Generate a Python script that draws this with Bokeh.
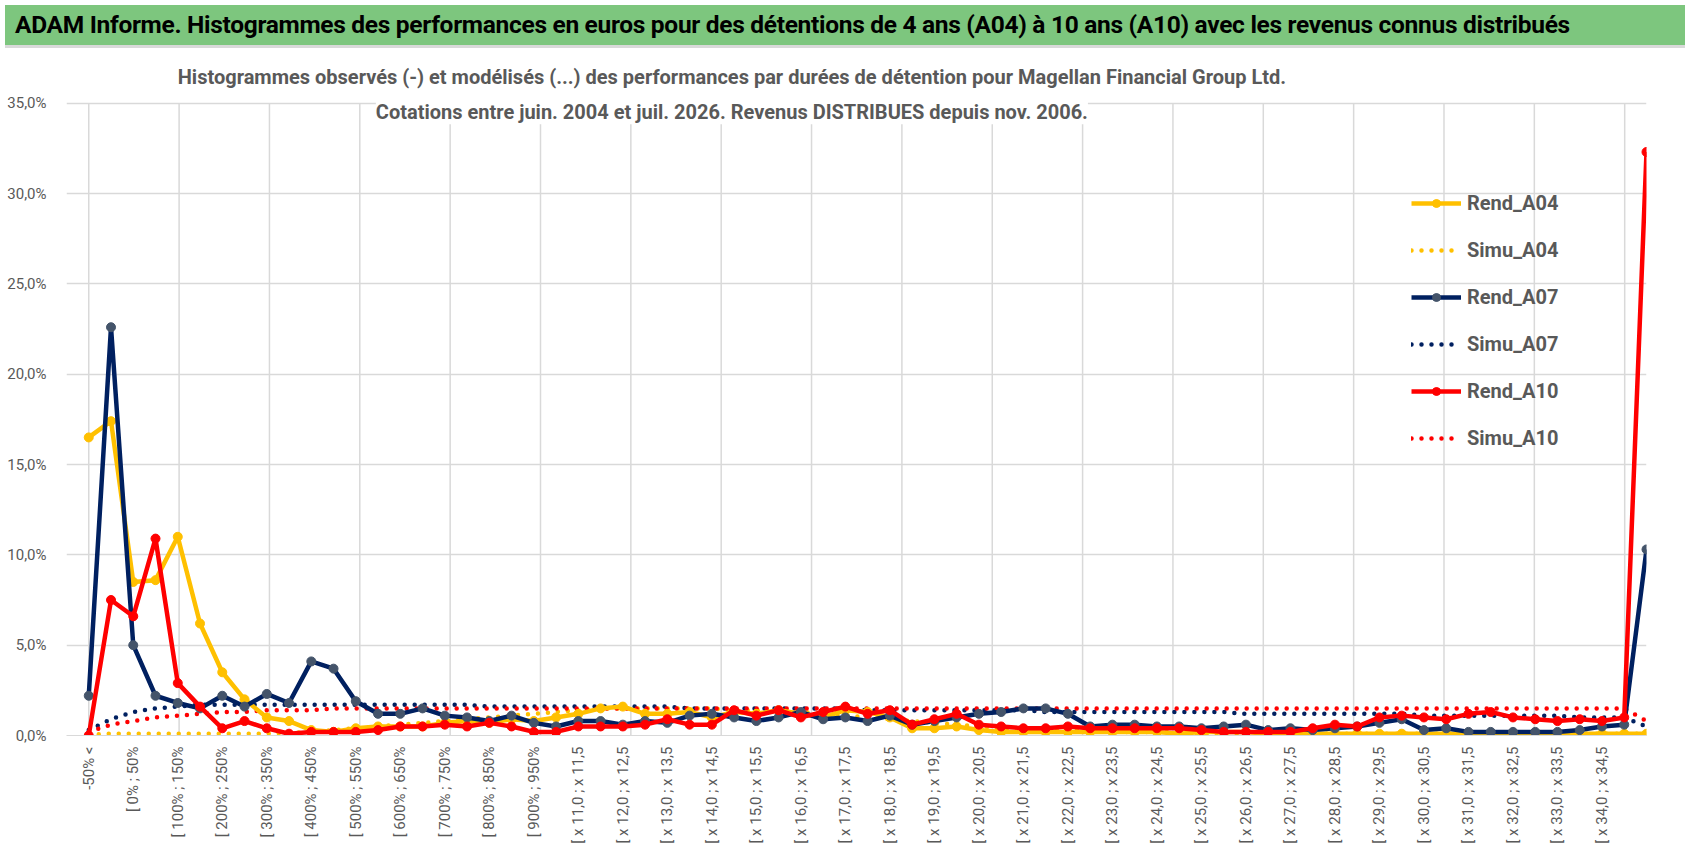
import math
from bokeh.plotting import figure
from bokeh.models import FixedTicker, Legend, LegendItem, Label, Div
from bokeh.layouts import column
from bokeh.embed import file_html
from bokeh.resources import INLINE

FONT = "Roboto"

pct_labels = ["-50% <", "[ -50% ; 0%"] + [f"[ {a}% ; {a+50}%" for a in range(0, 1000, 50)] + \
    [f"[ x {a/2:.1f} ; x {a/2+0.5:.1f}".replace(".", ",") for a in range(22, 70)] + ["> x 35,0"]

rend_a04 = [16.5, 17.4, 8.5, 8.6, 11.0, 6.2, 3.5, 2.0, 1.0, 0.8, 0.3, 0.2, 0.4, 0.5, 0.5, 0.5, 0.7, 0.8, 0.7, 0.9,
            0.8, 1.0, 1.2, 1.5, 1.6, 1.2, 1.2, 1.3, 1.0, 1.3, 1.2, 1.4, 1.2, 1.0, 1.4, 1.3, 1.0, 0.4, 0.4, 0.5,
            0.3, 0.2, 0.2, 0.2, 0.2, 0.2, 0.2, 0.2, 0.2, 0.1, 0.2, 0.2, 0.2, 0.1, 0.1, 0.1, 0.1, 0.1, 0.1, 0.1,
            0.1, 0.1, 0.1, 0.1, 0.1, 0.1, 0.1, 0.1, 0.1, 0.1, 0.1]
rend_a07 = [2.2, 22.6, 5.0, 2.2, 1.8, 1.5, 2.2, 1.6, 2.3, 1.8, 4.1, 3.7, 1.9, 1.2, 1.2, 1.5, 1.1, 1.0, 0.8, 1.1,
            0.7, 0.5, 0.8, 0.8, 0.6, 0.8, 0.7, 1.1, 1.2, 1.0, 0.8, 1.0, 1.3, 0.9, 1.0, 0.8, 1.1, 0.6, 0.8, 1.0,
            1.2, 1.3, 1.5, 1.5, 1.2, 0.5, 0.6, 0.6, 0.5, 0.5, 0.4, 0.5, 0.6, 0.3, 0.4, 0.3, 0.4, 0.5, 0.7, 0.9,
            0.3, 0.4, 0.2, 0.2, 0.2, 0.2, 0.2, 0.3, 0.5, 0.6, 10.3]
rend_a10 = [0.0, 7.5, 6.6, 10.9, 2.9, 1.6, 0.4, 0.8, 0.4, 0.1, 0.2, 0.2, 0.2, 0.3, 0.5, 0.5, 0.6, 0.5, 0.7, 0.5,
            0.2, 0.2, 0.5, 0.5, 0.5, 0.6, 0.9, 0.6, 0.6, 1.4, 1.1, 1.4, 1.0, 1.3, 1.6, 1.2, 1.4, 0.6, 0.9, 1.2,
            0.6, 0.5, 0.4, 0.4, 0.5, 0.4, 0.4, 0.4, 0.4, 0.4, 0.3, 0.2, 0.2, 0.2, 0.2, 0.4, 0.6, 0.5, 1.0, 1.1,
            1.0, 0.9, 1.2, 1.3, 1.0, 0.9, 0.8, 0.9, 0.8, 1.0, 32.3]
simu_a04 = [0.05, 0.1, 0.1, 0.1, 0.1, 0.1, 0.1, 0.1, 0.1, 0.15, 0.2, 0.3, 0.4, 0.5, 0.6, 0.7, 0.8, 0.9, 1.0, 1.1,
            1.2, 1.3, 1.4, 1.5, 1.5, 1.5, 1.5, 1.5, 1.5, 1.4, 1.4, 1.3, 1.3, 1.2, 1.1, 1.0, 0.9, 0.8, 0.7, 0.6,
            0.5, 0.4, 0.4, 0.3, 0.3, 0.3, 0.2, 0.2, 0.2, 0.2, 0.1, 0.1, 0.1, 0.1, 0.1, 0.1, 0.1, 0.1, 0.1, 0.1,
            0.1, 0.1, 0.1, 0.1, 0.1, 0.1, 0.1, 0.1, 0.1, 0.1, 0.1]
simu_a07 = [0.3, 0.9, 1.3, 1.5, 1.6, 1.7, 1.7, 1.7, 1.7, 1.7, 1.7, 1.7, 1.7, 1.7, 1.7, 1.7, 1.7, 1.7, 1.6, 1.6,
            1.6, 1.6, 1.6, 1.6, 1.6, 1.6, 1.6, 1.5, 1.5, 1.5, 1.5, 1.5, 1.5, 1.5, 1.5, 1.4, 1.4, 1.4, 1.4, 1.4,
            1.4, 1.4, 1.4, 1.3, 1.3, 1.3, 1.3, 1.3, 1.3, 1.3, 1.3, 1.3, 1.2, 1.2, 1.2, 1.2, 1.2, 1.2, 1.2, 1.2,
            1.1, 1.1, 1.1, 1.1, 1.1, 1.1, 1.1, 1.0, 1.0, 1.0, 0.5]
simu_a10 = [0.2, 0.6, 0.8, 1.0, 1.1, 1.2, 1.3, 1.3, 1.4, 1.4, 1.4, 1.5, 1.5, 1.5, 1.5, 1.5, 1.5, 1.5, 1.5, 1.5,
            1.5, 1.5, 1.5, 1.5, 1.5, 1.5, 1.5, 1.5, 1.5, 1.5, 1.5, 1.5, 1.5, 1.5, 1.5, 1.5, 1.5, 1.5, 1.5, 1.5,
            1.5, 1.5, 1.5, 1.5, 1.5, 1.5, 1.5, 1.5, 1.5, 1.5, 1.5, 1.5, 1.5, 1.5, 1.5, 1.5, 1.5, 1.5, 1.5, 1.5,
            1.5, 1.5, 1.5, 1.5, 1.5, 1.5, 1.5, 1.5, 1.5, 1.5, 0.8]
y_ticks = [0, 5, 10, 15, 20, 25, 30, 35]

x = list(range(len(pct_labels)))

header = Div(text="ADAM Informe. Histogrammes des performances en euros pour des détentions de 4 ans (A04) à 10 ans (A10) avec les revenus connus distribués",
             width=1680, height=43,
             styles={"background-color": "#7DC67E", "font-family": FONT, "font-weight": "bold",
                     "font-size": "24.5px", "color": "#000000", "padding-left": "10px",
                     "line-height": "40px", "box-sizing": "border-box", "width": "1680px",
                     "border-bottom": "3px solid #D9D9D9", "white-space": "nowrap",
                     "letter-spacing": "-0.3px"})

p = figure(width=1680, height=793, output_backend="svg", toolbar_location=None,
           x_range=(-1, 70), y_range=(0, 37.2))
p.min_border_top = 10
p.min_border_left = 66
p.min_border_right = 34
p.min_border_bottom = 110
p.outline_line_color = None
p.border_fill_color = "white"

p.xaxis.ticker = FixedTicker(ticks=list(range(0, 69, 2)))
p.xaxis.major_label_overrides = {i: pct_labels[i] for i in range(0, 69, 2)}
p.xaxis.major_label_orientation = math.pi / 2
p.xaxis.major_tick_line_color = None
p.xaxis.minor_tick_line_color = None
p.xaxis.axis_line_color = "#D9D9D9"
p.yaxis.ticker = FixedTicker(ticks=y_ticks)
p.yaxis.major_label_overrides = {v: f"{v},0%" for v in y_ticks}
p.yaxis.major_tick_line_color = None
p.yaxis.minor_tick_line_color = None
p.yaxis.axis_line_color = None
p.yaxis.major_label_standoff = 14
for ax in (p.xaxis[0], p.yaxis[0]):
    ax.major_label_text_font = FONT
    ax.major_label_text_font_size = "15px"
    ax.major_label_text_color = "#595959"
p.xgrid.grid_line_color = None
p.ygrid.grid_line_color = "#D9D9D9"
p.ygrid.grid_line_width = 1.5
gx = [k * 4.06 for k in range(18)]
p.segment(x0=gx, y0=[0] * len(gx), x1=gx, y1=[35] * len(gx), line_color="#D9D9D9", line_width=1.5)

items = []
series = [("Rend_A04", rend_a04, "#FFC000", "#FFC000", False),
          ("Simu_A04", simu_a04, "#FFC000", None, True),
          ("Rend_A07", rend_a07, "#002060", "#44546A", False),
          ("Simu_A07", simu_a07, "#002060", None, True),
          ("Rend_A10", rend_a10, "#FF0000", "#FF0000", False),
          ("Simu_A10", simu_a10, "#FF0000", None, True)]
order = [1, 3, 5, 0, 2, 4]
renderers = {}
for i in order:
    name, ys, col, mcol, dotted = series[i]
    if dotted:
        r = p.line(x, ys, line_color=col, line_width=4.5, line_dash="0 10", line_cap="round")
        renderers[name] = [r]
    else:
        r = p.line(x, ys, line_color=col, line_width=4.5)
        m = p.scatter(x, ys, size=9, fill_color=mcol, line_color=mcol)
        renderers[name] = [r, m]
for name, *_ in series:
    items.append(LegendItem(label=name, renderers=renderers[name]))

legend = Legend(items=items, location=(1345, 285), background_fill_alpha=0,
                border_line_color=None, label_text_font=FONT, label_text_font_size="20px",
                label_text_font_style="bold", label_text_color="#595959",
                glyph_width=50, spacing=23, label_standoff=6)
p.add_layout(legend, "center")

for txt, yy in [("Histogrammes observés (-) et modélisés (...) des performances par durées de détention pour Magellan Financial Group Ltd.", 36.45),
                ("Cotations entre juin. 2004 et juil. 2026. Revenus DISTRIBUES depuis nov. 2006.", 34.5)]:
    p.add_layout(Label(x=28.9, y=yy, text=txt, text_align="center", text_baseline="middle",
                       text_font=FONT, text_font_size="20px", text_font_style="bold",
                       text_color="#595959", background_fill_color="white"))

open("out.html", "w").write(file_html(column(header, p, spacing=0), INLINE))
